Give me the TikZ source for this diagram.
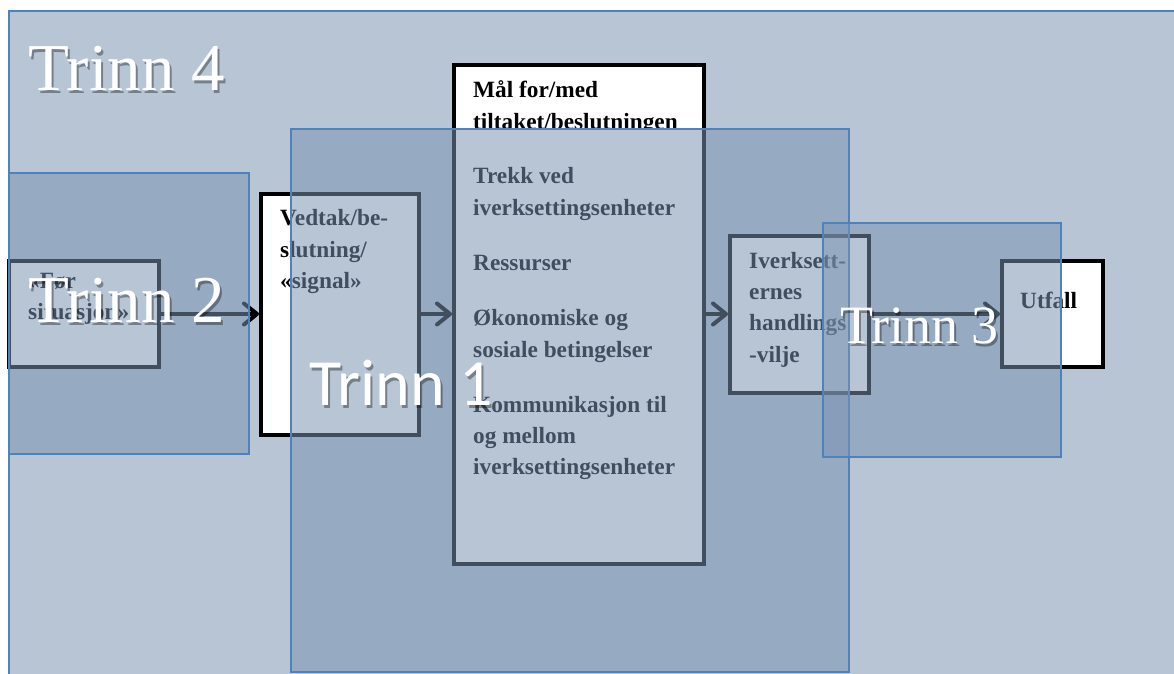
\documentclass[tikz,border=0pt]{standalone}
\usepackage{fontspec}
\setmainfont{Liberation Serif}
\newfontfamily\calib{Carlito}
\usetikzlibrary{arrows.meta}
\definecolor{ovfill}{RGB}{122,147,178}
\definecolor{ovline}{RGB}{79,129,189}
\begin{document}
\begin{tikzpicture}[x=1pt,y=-1pt,
  box/.style={draw=black, line width=4pt, fill=white, inner sep=0pt, outer sep=0pt},
  ov/.style={draw=ovline, line width=1.3pt, fill=ovfill, fill opacity=0.535, inner sep=0pt, outer sep=0pt, anchor=north west},
  txt/.style={anchor=base west, inner sep=0pt, font=\fontsize{23.3}{31}\selectfont\bfseries},
  arr/.style={line width=4pt, line join=round, -{Straight Barb[length=13pt,width=21pt,round]}, shorten >=2pt},
  lbl/.style={anchor=base west, inner sep=0pt, text=white},
  lblsh/.style={anchor=base west, inner sep=0pt, text=black, text opacity=0.35},
  serifbig/.style={font=\fontsize{67}{67}\selectfont},
  sanbig/.style={font=\calib\fontsize{66}{66}\selectfont},
]
\useasboundingbox (0,0) rectangle (1174,673);
\fill[white] (0,0) rectangle (1174,673);

% Trinn 4 background panel
\node[ov, minimum width=1180pt, minimum height=680pt] (t4) at (9,11) {};

% diagram boxes
\node[box, minimum width=150pt, minimum height=106pt] (foer) at (84,314) {};
\node[box, minimum width=158pt, minimum height=241pt] (vedtak) at (340,314.5) {};
\node[box, minimum width=250pt, minimum height=499pt] (mal) at (579,314.5) {};
\node[box, minimum width=139pt, minimum height=157pt] (iverk) at (799.5,314.5) {};
\node[box, minimum width=101pt, minimum height=106pt] (utfall) at (1052.5,314) {};

% connectors
\draw[arr] (foer.east) -- (foer.east -| vedtak.west);
\draw[arr] (vedtak.east |- foer.east) -- (foer.east -| mal.west);
\draw[arr] (mal.east |- foer.east) -- (foer.east -| iverk.west);
\draw[arr] (iverk.east |- foer.east) -- (foer.east -| utfall.west);

% box texts
\node[txt] (f1) at (28,288) {«Før};
\node[txt] (f2) at (28,319) {situasjon»};
\node[txt] (v1) at (280,225) {Vedtak/be-};
\node[txt] (v2) at (280,257) {slutning/};
\node[txt] (v3) at (280,288) {«signal»};
\node[txt] (m1) at (473,97) {Mål for/med};
\begin{scope}
  \clip (0,0) rectangle (1174,128.5);
  \node[txt] (m2) at (473,129) {tiltaket/beslutningen};
\end{scope}
\node[txt] (m3) at (473,183) {Trekk ved};
\node[txt] (m4) at (473,215) {iverksettingsenheter};
\node[txt] (m5) at (473,270) {Ressurser};
\node[txt] (m6) at (473,325) {Økonomiske og};
\node[txt] (m7) at (473,357) {sosiale betingelser};
\node[txt] (m8) at (473,412) {Kommunikasjon til};
\node[txt] (m9) at (473,443) {og mellom};
\node[txt] (m10) at (473,474) {iverksettingsenheter};
\node[txt] (i1) at (749,268) {Iverksett-};
\node[txt] (i2) at (749,299) {ernes};
\node[txt] (i3) at (749,330) {handlings};
\node[txt] (i4) at (749,362) {-vilje};
\node[txt] (u1) at (1020,308) {Utfall};

% overlay panels
\node[ov, minimum width=240pt, minimum height=281pt] (t2) at (9,173) {};
\node[ov, minimum width=558pt, minimum height=543pt] (t1) at (291,129) {};
\node[ov, minimum width=238pt, minimum height=234pt] (t3) at (823,223) {};

% labels
\node[lblsh, serifbig] (l4s) at (30,93) {Trinn 4};
\node[lbl, serifbig] (l4) at (28,90) {Trinn 4};
\node[lblsh, serifbig] (l2s) at (30,325) {Trinn 2};
\node[lbl, serifbig] (l2) at (28,322) {Trinn 2};
\node[lblsh, sanbig] (l1s) at (311,408) {Trinn 1};
\node[lbl, sanbig] (l1) at (309,405) {Trinn 1};
\node[lblsh, font=\fontsize{54}{54}\selectfont] (l3s) at (842,346) {Trinn 3};
\node[lbl, font=\fontsize{54}{54}\selectfont] (l3) at (840,343) {Trinn 3};
\end{tikzpicture}
\end{document}
